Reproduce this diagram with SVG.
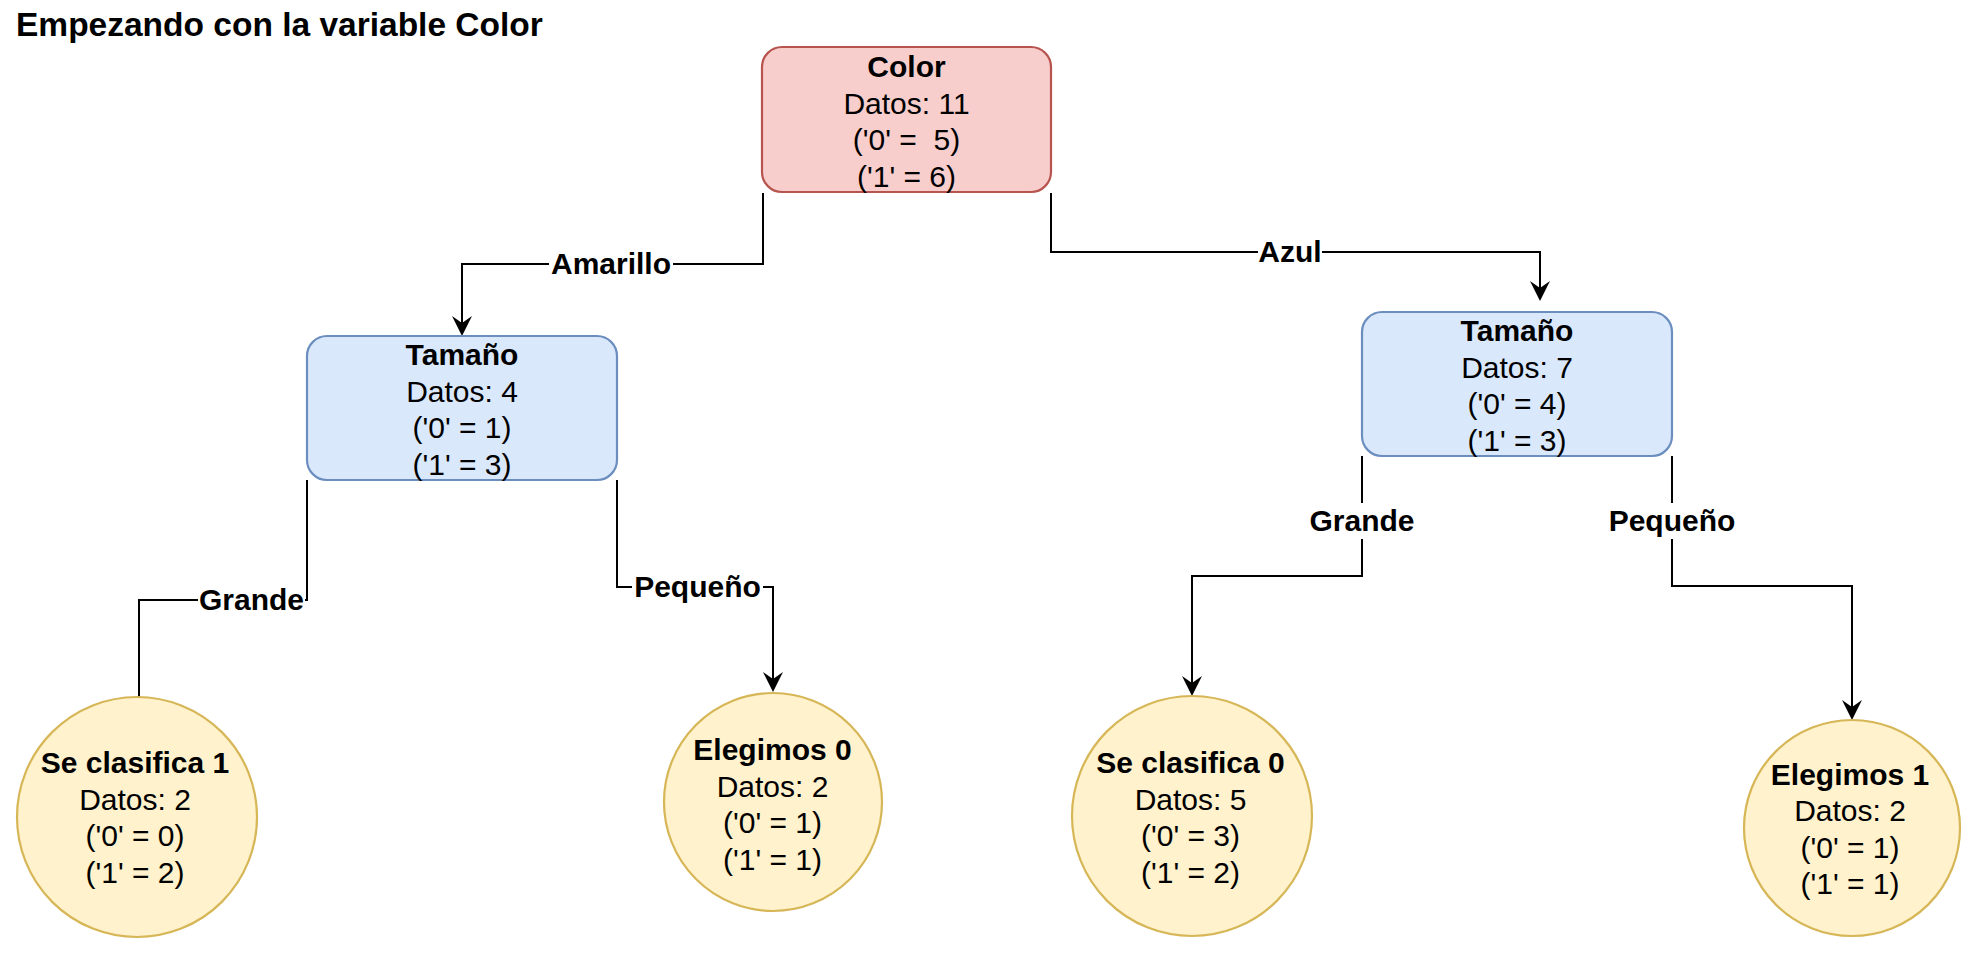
<svg xmlns="http://www.w3.org/2000/svg" width="1986" height="956" viewBox="0 0 1986 956">
<defs>
<style>
text{font-family:"Liberation Sans",Arial,Helvetica,sans-serif;font-size:30px;fill:#000;text-anchor:middle}
.b{font-weight:bold}
.title{font-size:33.5px;font-weight:bold;text-anchor:start}
.edge{fill:none;stroke:#000;stroke-width:2}
.lbg{fill:#fff}
.red{fill:#f8cecc;stroke:#b85450;stroke-width:2.2}
.blue{fill:#dae8fc;stroke:#6c8ebf;stroke-width:2.2}
.yel{fill:#fff2cc;stroke:#d6b656;stroke-width:2.2}
</style>
<marker id="arr" markerUnits="userSpaceOnUse" markerWidth="22" markerHeight="22" viewBox="0 -11 22 22" refX="12" refY="0" orient="auto">
<path d="M0,-10 L20,0 L0,10 L7,0 Z" fill="#000"/>
</marker>
</defs>
<rect width="1986" height="956" fill="#fff"/>
<text class="title" x="16" y="36">Empezando con la variable Color</text>

<g id="connectors">
<path class="edge" d="M763,193 V264 H462 V328" marker-end="url(#arr)"/>
<path class="edge" d="M1051,193 V252 H1540 V293" marker-end="url(#arr)"/>
<path class="edge" d="M307,480 V600 H139 V697"/>
<path class="edge" d="M617,480 V587 H773 V684" marker-end="url(#arr)"/>
<path class="edge" d="M1362,456 V576 H1192 V688" marker-end="url(#arr)"/>
<path class="edge" d="M1672,456 V586 H1852 V712" marker-end="url(#arr)"/>
<g id="edge-labels">
<rect class="lbg" x="549" y="246" width="124" height="36"/>
<text class="b" x="611" y="274">Amarillo</text>
<rect class="lbg" x="1258" y="234" width="64" height="36"/>
<text class="b" x="1290" y="262">Azul</text>
<rect class="lbg" x="198" y="582" width="107" height="36"/>
<text class="b" x="251.5" y="610">Grande</text>
<rect class="lbg" x="632" y="569" width="131" height="36"/>
<text class="b" x="697.5" y="597">Pequeño</text>
<rect class="lbg" x="1309" y="503" width="106" height="36"/>
<text class="b" x="1362" y="531">Grande</text>
<rect class="lbg" x="1608" y="503" width="128" height="36"/>
<text class="b" x="1672" y="531">Pequeño</text>
</g>
</g>

<g id="node-color">
<rect class="red" x="762" y="47" width="289" height="145" rx="20"/>
<text class="b" x="906.5" y="77">Color</text>
<text x="906.5" y="113.5">Datos: 11</text>
<text x="906.5" y="150" xml:space="preserve">('0' =  5)</text>
<text x="906.5" y="186.5">('1' = 6)</text>
</g>

<g id="node-tamano-left">
<rect class="blue" x="307" y="336" width="310" height="144" rx="20"/>
<text class="b" x="462" y="365">Tamaño</text>
<text x="462" y="401.5">Datos: 4</text>
<text x="462" y="438">('0' = 1)</text>
<text x="462" y="474.5">('1' = 3)</text>
</g>

<g id="node-tamano-right">
<rect class="blue" x="1362" y="312" width="310" height="144" rx="20"/>
<text class="b" x="1517" y="341">Tamaño</text>
<text x="1517" y="377.5">Datos: 7</text>
<text x="1517" y="414">('0' = 4)</text>
<text x="1517" y="450.5">('1' = 3)</text>
</g>

<g id="leaf-se-clasifica-1">
<circle class="yel" cx="137" cy="817" r="120"/>
<text class="b" x="135" y="773">Se clasifica 1</text>
<text x="135" y="809.5">Datos: 2</text>
<text x="135" y="846">('0' = 0)</text>
<text x="135" y="882.5">('1' = 2)</text>
</g>

<g id="leaf-elegimos-0">
<circle class="yel" cx="773" cy="802" r="109"/>
<text class="b" x="772.5" y="760">Elegimos 0</text>
<text x="772.5" y="796.5">Datos: 2</text>
<text x="772.5" y="833">('0' = 1)</text>
<text x="772.5" y="869.5">('1' = 1)</text>
</g>

<g id="leaf-se-clasifica-0">
<circle class="yel" cx="1192" cy="816" r="120"/>
<text class="b" x="1190.5" y="773">Se clasifica 0</text>
<text x="1190.5" y="809.5">Datos: 5</text>
<text x="1190.5" y="846">('0' = 3)</text>
<text x="1190.5" y="882.5">('1' = 2)</text>
</g>

<g id="leaf-elegimos-1">
<circle class="yel" cx="1852" cy="828" r="108"/>
<text class="b" x="1850" y="784.5">Elegimos 1</text>
<text x="1850" y="821">Datos: 2</text>
<text x="1850" y="857.5">('0' = 1)</text>
<text x="1850" y="894">('1' = 1)</text>
</g>
</svg>
